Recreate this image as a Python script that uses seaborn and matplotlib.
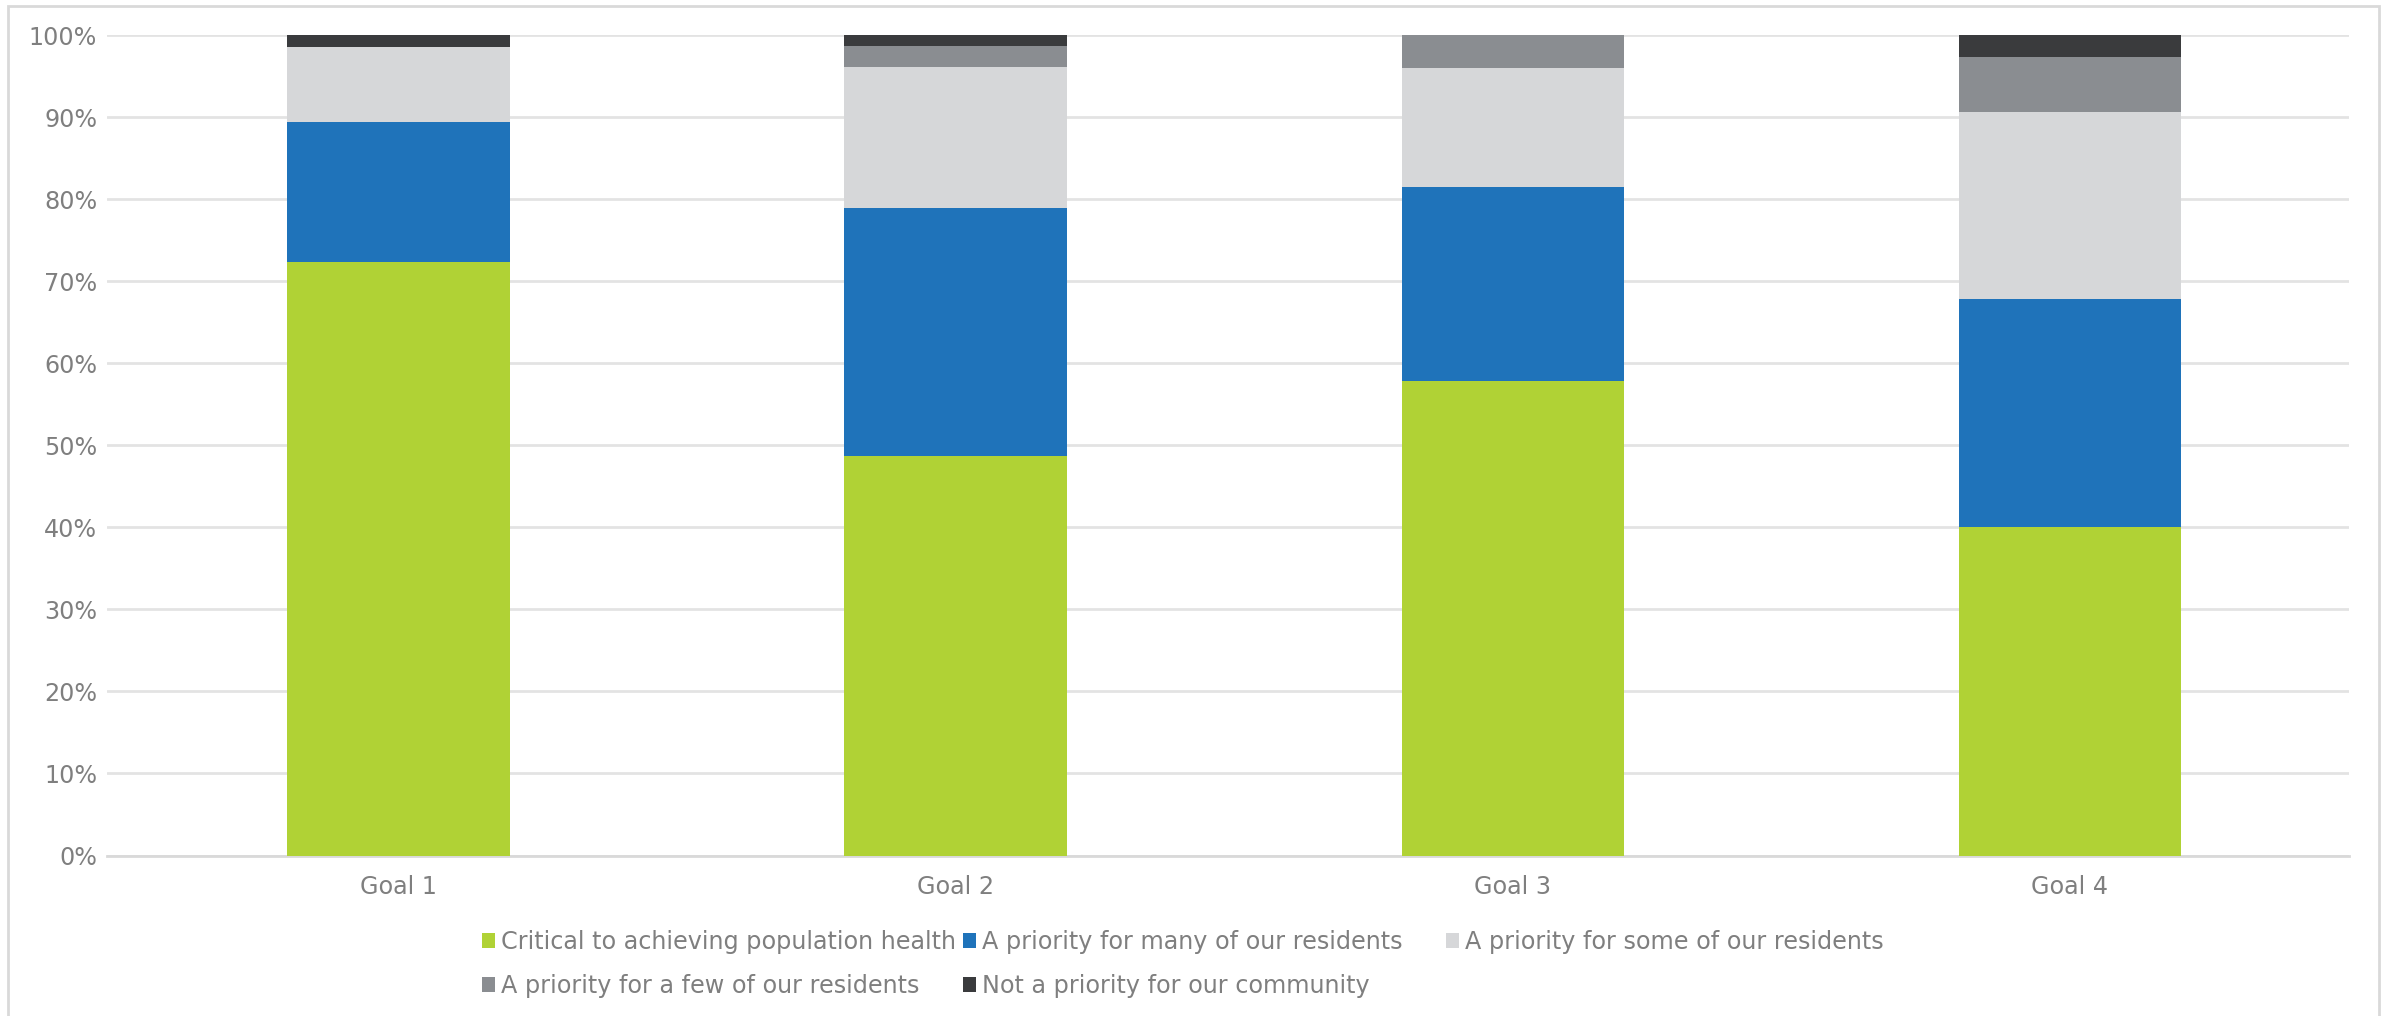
import matplotlib
matplotlib.use("Agg")
import matplotlib.pyplot as plt
import seaborn as sns
import pandas as pd
import numpy as np
from matplotlib.patches import Rectangle, Patch
from matplotlib.ticker import PercentFormatter

# ---- data ----
goals = ["Goal 1", "Goal 2", "Goal 3", "Goal 4"]
series_names = [
    "Critical to achieving population health",
    "A priority for many of our residents",
    "A priority for some of our residents",
    "A priority for a few of our residents",
    "Not a priority for our community",
]
critical = [72.4, 48.7, 57.8, 40.0]
many = [17.0, 30.2, 23.7, 27.9]
some = [9.2, 17.2, 14.5, 22.7]
few = [0.0, 2.6, 4.0, 6.7]
not_priority = [1.4, 1.3, 0.0, 2.7]
series_values = [critical, many, some, few, not_priority]
colors = ["#B0D235", "#1F73BA", "#D6D7D9", "#8A8D91", "#3A3B3D"]
ytick_vals = list(range(0, 101, 10))

text_color = "#7F7F7F"
grid_color = "#E3E3E3"
FS = 17.2

sns.set_theme(style="white")
plt.rcParams["font.family"] = ["DejaVu Sans"]

W, H = 2392, 1016
fig = plt.figure(figsize=(W / 100, H / 100), dpi=100)
ax = fig.add_axes([107 / W, 1 - 855.5 / H, (2349 - 107) / W, (855.5 - 35.3) / H])

bottom = np.zeros(len(goals))
for name, vals, c in zip(series_names, series_values, colors):
    df = pd.DataFrame({"goal": goals, "value": vals})
    sns.barplot(data=df, x="goal", y="value", bottom=bottom, color=c,
                width=0.4, ax=ax, saturation=1, errorbar=None, zorder=3,
                edgecolor="none", linewidth=0)
    bottom = bottom + np.array(vals)

ax.set_xlim(-0.524, 3.501)
ax.set_ylim(0, 100)
ax.set_yticks(ytick_vals)
ax.yaxis.set_major_formatter(PercentFormatter(decimals=0))
ax.grid(axis="y", color=grid_color, linewidth=2, zorder=0)
ax.grid(axis="x", visible=False)
for s in ["top", "right", "left"]:
    ax.spines[s].set_visible(False)
ax.spines["bottom"].set_color("#D9D9D9")
ax.spines["bottom"].set_linewidth(2)
ax.set_xlabel("")
ax.set_ylabel("")
ax.tick_params(axis="y", labelsize=FS, colors=text_color, length=0, pad=7)
ax.tick_params(axis="x", labelsize=FS, colors=text_color, length=0, pad=14)

# legend: Excel-like grid, row1: first three, row2: last two
handles = [Patch(facecolor=c, edgecolor="none") for c in colors]
columns = [[0, 3], [1, 4], [2]]
col_x = [482, 963, 1446]
for idxs, x in zip(columns, col_x):
    leg = fig.legend([handles[i] for i in idxs], [series_names[i] for i in idxs],
                     ncol=1, loc="upper left", bbox_to_anchor=(x / W, 1 - 930 / H),
                     frameon=False, fontsize=FS, labelcolor=text_color,
                     handlelength=0.55, handleheight=0.55, handletextpad=0.25,
                     labelspacing=0.83, borderpad=0, borderaxespad=0)

# outer frame
fig.patches.append(Rectangle((8 / W, -0.05), (2379 - 8) / W, 1.05 - 6 / H,
                             transform=fig.transFigure, fill=False,
                             edgecolor="#D9D9D9", linewidth=2))

fig.savefig("out.png", dpi=100)
